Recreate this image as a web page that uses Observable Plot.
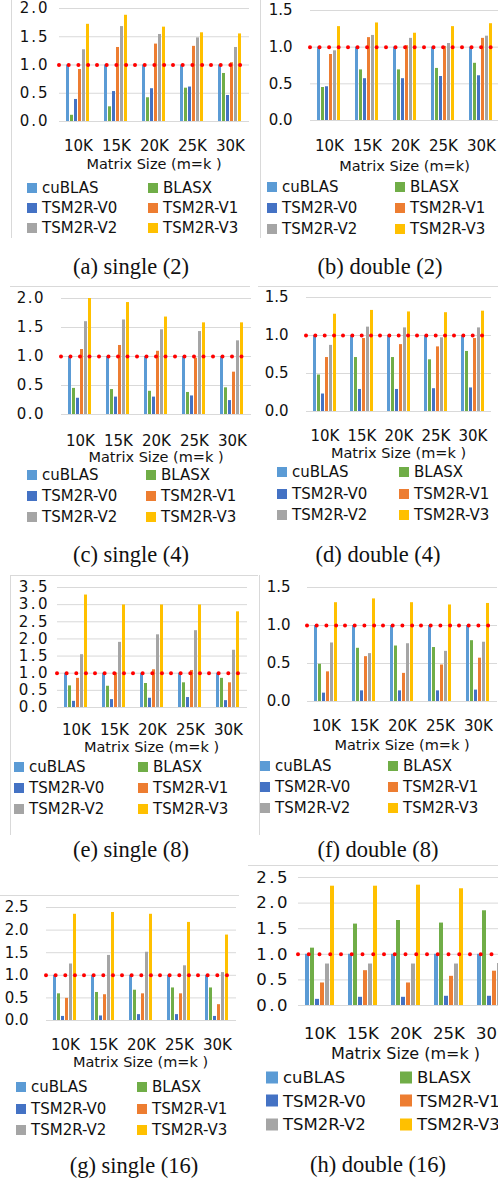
<!DOCTYPE html>
<html><head><meta charset="utf-8">
<script src="https://cdn.jsdelivr.net/npm/d3@7"></script>
<script src="https://cdn.jsdelivr.net/npm/@observablehq/plot@0.6"></script>
<style>
html,body{margin:0;padding:0;background:#fff;overflow:hidden;width:498px;height:1185px;}
#root{position:relative;width:498px;height:1185px;overflow:hidden;font-family:"DejaVu Sans",sans-serif;color:#111;}
.cap{position:absolute;font-family:"Liberation Serif","Times New Roman",serif;white-space:nowrap;transform:translate(-50%,-50%);color:#111;}
.ttl{position:absolute;white-space:nowrap;transform:translate(-50%,-50%);}
.lg{position:absolute;white-space:nowrap;display:flex;align-items:center;transform:translateY(-50%);}
.sw{display:inline-block;flex:none;}
.line{position:absolute;background:#d9d9d9;}
</style></head><body><div id="root"></div>
<script>
const sizes = ["10K","15K","20K","25K","30K"];
const series = ["cuBLAS","BLASX","TSM2R-V0","TSM2R-V1","TSM2R-V2","TSM2R-V3"];
const colors = ["#5B9BD5","#70AD47","#4472C4","#ED7D31","#A5A5A5","#FFC000"];
const axisTitle = "Matrix Size (m=k )";
const axisTitleB = "Matrix Size (m=k)";
const cuBLAS = [1,1,1,1,1];

// rows: BLASX, TSM2R-V0, TSM2R-V1, TSM2R-V2, TSM2R-V3 (columns 10K..30K)
const single2 = [
  [0.11,0.26,0.42,0.59,0.85],
  [0.39,0.53,0.58,0.61,0.46],
  [0.92,1.31,1.37,1.33,1.04],
  [1.27,1.68,1.54,1.48,1.31],
  [1.72,1.88,1.67,1.57,1.55]];
const double2 = [
  [0.45,0.69,0.69,0.71,0.78],
  [0.46,0.57,0.57,0.60,0.61],
  [0.90,1.13,1.02,1.01,1.12],
  [0.95,1.16,1.12,1.05,1.15],
  [1.28,1.33,1.19,1.28,1.32]];
const single4 = [
  [0.45,0.43,0.40,0.38,0.46],
  [0.28,0.30,0.30,0.32,0.24],
  [1.12,1.19,1.09,0.97,0.73],
  [1.60,1.63,1.46,1.43,1.27],
  [2.00,1.93,1.68,1.58,1.58]];
const double4 = [
  [0.48,0.71,0.71,0.68,0.79],
  [0.23,0.29,0.29,0.30,0.31],
  [0.71,0.96,0.88,0.85,0.96],
  [0.87,1.11,1.10,0.97,1.10],
  [1.28,1.33,1.31,1.30,1.32]];
const single8 = [
  [0.63,0.62,0.70,0.72,0.85],
  [0.18,0.23,0.27,0.29,0.20],
  [0.85,1.01,1.10,1.08,0.72],
  [1.54,1.90,2.12,2.24,1.67],
  [3.28,2.99,2.99,2.99,2.79]];
const double8 = [
  [0.49,0.70,0.73,0.71,0.80],
  [0.11,0.14,0.14,0.14,0.15],
  [0.39,0.59,0.37,0.48,0.57],
  [0.77,0.63,0.76,0.66,0.78],
  [1.30,1.35,1.30,1.27,1.29]];
const single16 = [
  [0.59,0.62,0.67,0.72,0.72],
  [0.09,0.10,0.13,0.13,0.09],
  [0.49,0.57,0.59,0.59,0.35],
  [1.25,1.44,1.51,1.21,1.06],
  [2.35,2.39,2.35,2.17,1.89]];
const double16 = [
  [1.12,1.59,1.66,1.61,1.85],
  [0.12,0.16,0.16,0.18,0.18],
  [0.44,0.68,0.44,0.57,0.67],
  [0.81,0.81,0.81,0.81,0.82],
  [2.33,2.33,2.35,2.28,2.30]];

const captions = ["(a) single (2)","(b) double (2)","(c) single (4)","(d) double (4)",
                  "(e) single (8)","(f) double (8)","(g) single (16)","(h) double (16)"];

// layout (pixel geometry only)
const panels = [
  {v:single2, left:0,   x0:57,  x1:251, yTop:8,   y0:121,  ymax:2.0, ylabR:45,  ls:2,   xlab:145,  ty:164,  t:axisTitle,  lx:27,  lx2:148, ly:188,  lh:20,   cx:131, cy:267},
  {v:double2, left:248, x0:309, x1:500, yTop:10,  y0:120,  ymax:1.5, ylabR:291, ls:0,   xlab:145,  ty:166,  t:axisTitleB, lx:267, lx2:395, ly:187,  lh:21,   cx:380, cy:267},
  {v:single4, left:0,   x0:61,  x1:251, yTop:298, y0:414,  ymax:2.0, ylabR:43,  ls:1.5, xlab:440,  ty:457,  t:axisTitle,  lx:27,  lx2:146, ly:475,  lh:21,   cx:131, cy:555},
  {v:double4, left:248, x0:305, x1:492, yTop:297, y0:411,  ymax:1.5, ylabR:287, ls:0,   xlab:435,  ty:453,  t:axisTitle,  lx:277, lx2:399, ly:472,  lh:21.5, cx:378, cy:555},
  {v:single8, left:0,   x0:55,  x1:248, yTop:587, y0:707,  ymax:3.5, ylabR:45,  ls:2.5, xlab:729,  ty:747,  t:axisTitle,  lx:14,  lx2:138, ly:767,  lh:21,   cx:131, cy:850},
  {v:double8, left:248, x0:305, x1:499, yTop:587, y0:701,  ymax:1.5, ylabR:288, ls:0,   xlab:725,  ty:745,  t:axisTitle,  lx:260, lx2:388, ly:766,  lh:21,   cx:378, cy:850},
  {v:single16,left:0,   x0:44,  x1:237, yTop:907, y0:1020, ymax:2.5, ylabR:26,  ls:0,   xlab:1044, ty:1062, t:axisTitle,  lx:16,  lx2:137, ly:1087, lh:21.5, cx:134, cy:1166},
  {v:double16,left:248, x0:298, x1:513, yTop:877, y0:1005, ymax:2.5, ylabR:287, ls:2.5, xlab:1033, ty:1053, t:axisTitle,  lx:266, lx2:400, ly:1077, lh:23.5, cx:378, cy:1165, fs:16.5, sw:12, gap:17}
];

const borders = [
  {x:11, y:0, w:1, h:238},
  {x:260, y:0, w:1, h:238},
  {x:10, y:286, w:240, h:1},
  {x:258, y:286, w:240, h:1},
  {x:10, y:575, w:248, h:1},
  {x:10, y:575, w:1, h:260},
  {x:259, y:575, w:1, h:260},
  {x:0, y:895, w:239, h:1},
  {x:248, y:865, w:250, h:1}
];

const root = document.getElementById("root");
for (const b of borders) {
  const d = document.createElement("div");
  d.className = "line";
  Object.assign(d.style, {left:b.x+"px", top:b.y+"px", width:b.w+"px", height:b.h+"px"});
  root.appendChild(d);
}

panels.forEach((p, k) => {
  const fs = p.fs || 15;
  const rows = [cuBLAS, ...p.v];
  const data = [];
  series.forEach((s, j) => sizes.forEach((z, i) => data.push({size: z, series: s, value: rows[j][i]})));
  const mt = 10, mb = 50;
  const W = p.x1 - p.left;
  const H = mt + (p.y0 - p.yTop) + mb;
  const ticks = d3.range(0, p.ymax + 0.001, 0.5);
  const facetW = (p.x1 - p.x0) / sizes.length;
  const chart = Plot.plot({
    width: W, height: H,
    marginLeft: p.x0 - p.left, marginRight: 0, marginTop: mt, marginBottom: mb,
    style: {fontFamily: '"DejaVu Sans", sans-serif', fontSize: fs + "px", color: "#111", background: "transparent", overflow: "visible"},
    fx: {domain: sizes, paddingInner: 0, paddingOuter: 0},
    x: {domain: series, axis: null, paddingInner: 0.2, paddingOuter: 1},
    y: {domain: [0, p.ymax]},
    color: {domain: series, range: colors},
    marks: [
      Plot.gridY(ticks, {stroke: "#d9d9d9", strokeOpacity: 1, strokeWidth: 1}),
      Plot.barY(data, {fx: "size", x: "series", y: "value", fill: "series"}),
      Plot.ruleY([1], {stroke: "#ff0000", strokeWidth: 4, strokeLinecap: "round", strokeDasharray: `0 ${facetW / 4}`}),
      Plot.axisY(ticks, {tickSize: 0, tickPadding: p.x0 - p.ylabR - p.ls, tickFormat: d => d.toFixed(1), label: null}),
      Plot.axisFx({anchor: "bottom", tickSize: 0, tickPadding: p.xlab - p.y0 - 0.36 * fs, label: null})
    ]
  });
  if (p.ls) chart.querySelectorAll('[aria-label="y-axis tick label"] text').forEach(t => t.style.letterSpacing = p.ls + "px");
  Object.assign(chart.style, {position: "absolute", left: p.left + "px", top: (p.yTop - mt) + "px"});
  root.appendChild(chart);

  const t = document.createElement("div");
  t.className = "ttl";
  t.textContent = p.t;
  Object.assign(t.style, {left: ((p.x0 + p.x1) / 2) + "px", top: p.ty + "px", fontSize: (fs - 0.5) + "px"});
  root.appendChild(t);

  const sw = p.sw || 10, gap = p.gap || 15;
  series.forEach((s, j) => {
    const item = document.createElement("div");
    item.className = "lg";
    const col = j % 2, row = Math.floor(j / 2);
    Object.assign(item.style, {left: (col ? p.lx2 : p.lx) + "px", top: (p.ly + row * p.lh) + "px", fontSize: fs + "px"});
    const box = document.createElement("span");
    box.className = "sw";
    Object.assign(box.style, {width: sw + "px", height: sw + "px", background: colors[j], marginRight: (gap - sw) + "px"});
    item.appendChild(box);
    item.appendChild(document.createTextNode(s));
    root.appendChild(item);
  });

  const c = document.createElement("div");
  c.className = "cap";
  c.textContent = captions[k];
  Object.assign(c.style, {left: p.cx + "px", top: p.cy + "px", fontSize: "22.5px"});
  root.appendChild(c);
});
</script></body></html>
